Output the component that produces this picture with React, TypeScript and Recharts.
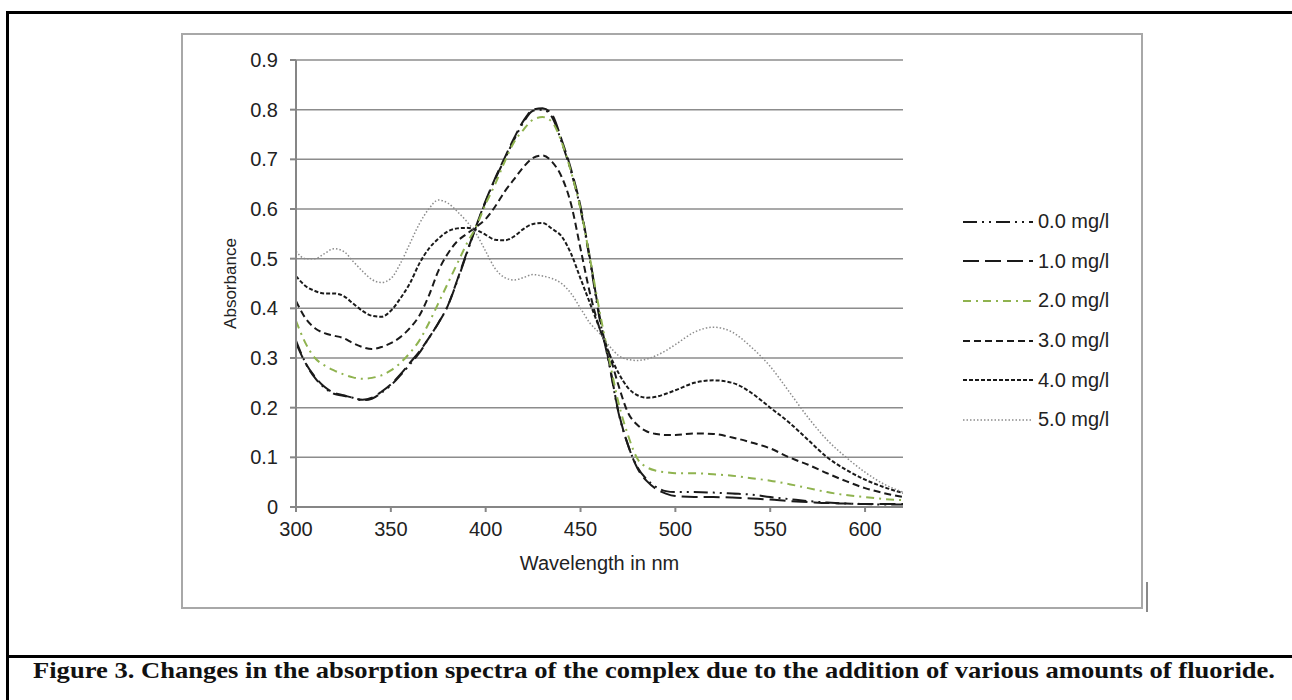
import { CartesianGrid, Label, Legend, Line, LineChart, XAxis, YAxis } from 'recharts'

// wavelength grid (nm)
const wavelengths = [
	300, 305, 310, 315, 320, 325, 330, 335, 340, 345, 350, 355, 360, 365, 370, 375, 380, 385, 390, 395,
	400, 405, 410, 415, 420, 425, 430, 435, 440, 445, 450, 455, 460, 465, 470, 475, 480, 485, 490, 495,
	500, 510, 520, 530, 540, 550, 560, 570, 580, 590, 600, 610, 620,
]

// absorbance, one list per fluoride amount
const conc00 = [
	0.335, 0.29, 0.26, 0.24, 0.228, 0.224, 0.22, 0.215, 0.218, 0.23, 0.245, 0.265, 0.287, 0.31, 0.34, 0.37, 0.405, 0.455, 0.51, 0.565,
	0.615, 0.66, 0.70, 0.74, 0.775, 0.798, 0.80, 0.785, 0.735, 0.675, 0.60, 0.495, 0.38, 0.29, 0.19, 0.125, 0.08, 0.055, 0.04, 0.032,
	0.03, 0.03, 0.029, 0.027, 0.025, 0.02, 0.016, 0.012, 0.009, 0.007, 0.006, 0.005, 0.005,
]
const conc10 = [
	0.33, 0.29, 0.262, 0.242, 0.23, 0.225, 0.22, 0.216, 0.22, 0.232, 0.247, 0.267, 0.29, 0.313, 0.34, 0.37, 0.405, 0.457, 0.512, 0.566,
	0.617, 0.662, 0.703, 0.743, 0.778, 0.80, 0.803, 0.79, 0.74, 0.68, 0.605, 0.50, 0.385, 0.292, 0.192, 0.125, 0.078, 0.052, 0.036, 0.027,
	0.022, 0.02, 0.02, 0.019, 0.017, 0.015, 0.012, 0.01, 0.008, 0.007, 0.006, 0.006, 0.006,
]
const conc20 = [
	0.375, 0.33, 0.30, 0.285, 0.275, 0.267, 0.261, 0.258, 0.26, 0.265, 0.275, 0.29, 0.31, 0.335, 0.37, 0.41, 0.45, 0.49, 0.53, 0.565,
	0.61, 0.65, 0.695, 0.735, 0.76, 0.78, 0.785, 0.775, 0.735, 0.675, 0.60, 0.50, 0.395, 0.30, 0.21, 0.145, 0.097, 0.08, 0.073, 0.07,
	0.068, 0.068, 0.066, 0.063, 0.058, 0.053, 0.046, 0.038, 0.03, 0.024, 0.02, 0.016, 0.014,
]
const conc30 = [
	0.415, 0.38, 0.36, 0.35, 0.345, 0.34, 0.33, 0.322, 0.318, 0.322, 0.33, 0.342, 0.36, 0.385, 0.425, 0.475, 0.51, 0.535, 0.55, 0.564,
	0.58, 0.605, 0.635, 0.66, 0.685, 0.703, 0.708, 0.695, 0.665, 0.61, 0.52, 0.43, 0.36, 0.31, 0.245, 0.19, 0.165, 0.152, 0.147, 0.145,
	0.145, 0.148, 0.147, 0.14, 0.13, 0.118, 0.10, 0.085, 0.068, 0.052, 0.038, 0.028, 0.02,
]
const conc40 = [
	0.465, 0.445, 0.435, 0.43, 0.43, 0.425, 0.41, 0.395, 0.385, 0.383, 0.395, 0.42, 0.45, 0.49, 0.52, 0.54, 0.555, 0.561, 0.562, 0.558,
	0.548, 0.538, 0.537, 0.545, 0.56, 0.57, 0.572, 0.56, 0.545, 0.51, 0.46, 0.41, 0.36, 0.31, 0.27, 0.24, 0.225, 0.22, 0.222, 0.228,
	0.235, 0.25, 0.255, 0.25, 0.23, 0.20, 0.17, 0.135, 0.10, 0.075, 0.055, 0.04, 0.028,
]
const conc50 = [
	0.515, 0.50, 0.50, 0.51, 0.52, 0.515, 0.495, 0.475, 0.458, 0.452, 0.46, 0.49, 0.53, 0.57, 0.60, 0.618, 0.612, 0.595, 0.575, 0.55,
	0.515, 0.48, 0.462, 0.457, 0.462, 0.468, 0.465, 0.46, 0.45, 0.43, 0.40, 0.37, 0.35, 0.325, 0.305, 0.297, 0.295, 0.298, 0.305, 0.315,
	0.327, 0.352, 0.362, 0.352, 0.322, 0.283, 0.232, 0.18, 0.135, 0.10, 0.07, 0.046, 0.03,
]

const seriesNames = ['0.0 mg/l', '1.0 mg/l', '2.0 mg/l', '3.0 mg/l', '4.0 mg/l', '5.0 mg/l']
const xTicks = [300, 350, 400, 450, 500, 550, 600]
const yTicks = [0, 0.1, 0.2, 0.3, 0.4, 0.5, 0.6, 0.7, 0.8, 0.9]

const series = [
	{ key: 's0', values: conc00, color: '#1a1a1a', dash: '14 5 2 5 2 5', width: 2 },
	{ key: 's1', values: conc10, color: '#1a1a1a', dash: '16 6', width: 2 },
	{ key: 's2', values: conc20, color: '#8fb34f', dash: '8 5 2 5', width: 2 },
	{ key: 's3', values: conc30, color: '#1a1a1a', dash: '7 4', width: 2 },
	{ key: 's4', values: conc40, color: '#1a1a1a', dash: '4 2', width: 2 },
	{ key: 's5', values: conc50, color: '#8c8c8c', dash: '1.5 2', width: 1.5 },
]

const data = wavelengths.map((w, i) => {
	const row: any = { w }
	series.forEach(s => { row[s.key] = s.values[i] })
	return row
})

const font = "'Liberation Sans', Arial, sans-serif"
const tickStyle = { fill: '#222', fontSize: 20, fontFamily: font }

const SpectraLegend = () => (
	<div style={{ fontFamily: font, fontSize: 20, color: '#222' }}>
		{series.map((s, i) => (
			<div key={s.key} style={{ display: 'flex', alignItems: 'center', height: 39.6 }}>
				<svg width={70} height={10} style={{ marginRight: 5 }}>
					<line x1={0} y1={5} x2={70} y2={5} stroke={s.color} strokeWidth={s.width} strokeDasharray={s.dash} />
				</svg>
				<span>{seriesNames[i]}</span>
			</div>
		))}
	</div>
)

export default function App() {
	return (
		<div style={{ position: 'absolute', left: 0, top: 0, width: 1292, height: 700, background: '#fff', overflow: 'hidden' }}>
			{/* page frame */}
			<div style={{ position: 'absolute', left: 6, top: 11, width: 1300, height: 3, background: '#000' }} />
			<div style={{ position: 'absolute', left: 6, top: 11, width: 3, height: 700, background: '#000' }} />
			<div style={{ position: 'absolute', left: 6, top: 655, width: 1300, height: 3, background: '#000' }} />
			<div style={{ position: 'absolute', left: 1146, top: 582, width: 2, height: 30, background: '#8a8a8a' }} />

			{/* chart box */}
			<div style={{ position: 'absolute', left: 181, top: 33, width: 962, height: 576, boxSizing: 'border-box', border: '2px solid #a8a8a8' }} />
			<div style={{ position: 'absolute', left: 181, top: 33 }}>
				<LineChart width={962} height={576} data={data} margin={{ top: 27, right: 240, bottom: 42, left: 45 }}>
					<CartesianGrid vertical={false} stroke='#8c8c8c' strokeWidth={1.5} />
					<XAxis dataKey='w' type='number' domain={[300, 620]} ticks={xTicks} allowDataOverflow
						height={60} tickSize={5} tickMargin={10} tick={tickStyle}
						axisLine={{ stroke: '#868686', strokeWidth: 2 }} tickLine={{ stroke: '#868686', strokeWidth: 2 }}>
						<Label content={({ viewBox }: any) => (
							<text x={viewBox.x + viewBox.width / 2} y={viewBox.y + 56} textAnchor='middle' dominantBaseline='central'
								fill='#222' fontSize={20} fontFamily={font}>Wavelength in nm</text>
						)} />
					</XAxis>
					<YAxis type='number' domain={[0, 0.9]} ticks={yTicks} width={70} tickSize={6} tickMargin={12}
						tick={tickStyle} tickFormatter={(v: number) => (v === 0 ? '0' : v.toFixed(1))}
						axisLine={{ stroke: '#868686', strokeWidth: 2 }} tickLine={{ stroke: '#868686', strokeWidth: 2 }}>
						<Label content={({ viewBox }: any) => {
							const cx = viewBox.x + 4
							const cy = viewBox.y + viewBox.height / 2
							return (
								<text x={cx} y={cy} transform={`rotate(-90, ${cx}, ${cy})`} textAnchor='middle' dominantBaseline='central'
									fill='#222' fontSize={17} fontFamily={font}>Absorbance</text>
							)
						}} />
					</YAxis>
					{series.map((s, i) => (
						<Line key={s.key} type='monotone' dataKey={s.key} name={seriesNames[i]} stroke={s.color}
							strokeWidth={s.width} strokeDasharray={s.dash} dot={false} activeDot={false} isAnimationActive={false} />
					))}
					<Legend layout='vertical' align='center' verticalAlign='middle' content={<SpectraLegend />}
						wrapperStyle={{ left: 782, top: 169, width: 170 }} />
				</LineChart>
			</div>

			{/* caption */}
			<svg style={{ position: 'absolute', left: 0, top: 658 }} width={1292} height={42}>
				<text x={33} y={20} textLength={1242} lengthAdjust='spacingAndGlyphs' fontSize={23} fontWeight='bold'
					fontFamily="'Liberation Serif', 'Times New Roman', serif" fill='#111'>
					Figure 3. Changes in the absorption spectra of the complex due to the addition of various amounts of fluoride.
				</text>
			</svg>
		</div>
	)
}
